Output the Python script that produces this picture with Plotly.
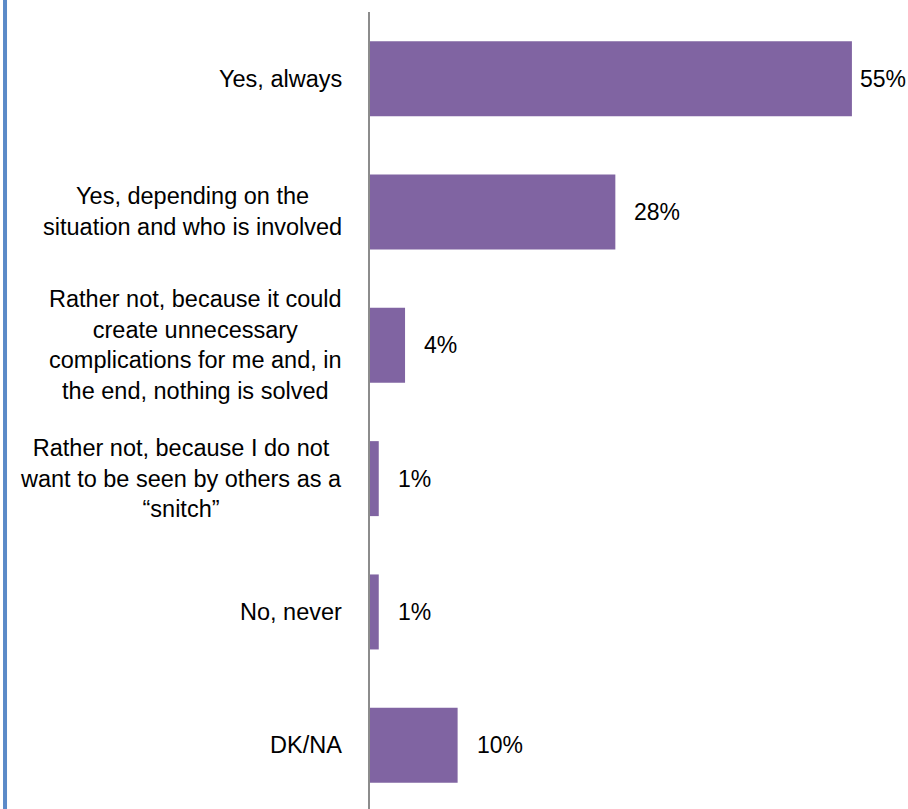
import plotly.graph_objects as go

categories = [
    "Yes, always",
    "Yes, depending on the<br>situation and who is involved",
    "Rather not, because it could<br>create unnecessary<br>complications for me and, in<br>the end, nothing is solved",
    "Rather not, because I do not<br>want to be seen by others as a<br>\u201csnitch\u201d",
    "No, never",
    "DK/NA",
]
values = [55, 28, 4, 1, 1, 10]
value_labels = ["55%", "28%", "4%", "1%", "1%", "10%"]

FONT = "Liberation Sans, Arial, sans-serif"
ids = list(range(len(categories)))

fig = go.Figure()
fig.add_trace(go.Bar(
    x=values, y=ids, orientation="h",
    marker=dict(color="#8064A2", line=dict(width=0)),
    hoverinfo="skip",
))

annotations = []
for i, (cat, v, lab) in enumerate(zip(categories, values, value_labels)):
    annotations.append(dict(
        x=0, xref="paper", y=i, yref="y", text=cat, showarrow=False,
        xanchor="right", yanchor="middle", align="center", xshift=-26,
        font=dict(family=FONT, size=23.5, color="#000000"),
    ))
    annotations.append(dict(
        x=v, xref="x", y=i, yref="y", text=lab, showarrow=False,
        xanchor="left", yanchor="middle", xshift=(6 if v > 50 else 17),
        font=dict(family=FONT, size=23, color="#000000"),
    ))

fig.update_layout(
    width=908, height=809,
    margin=dict(l=370, r=0, t=12, b=0),
    paper_bgcolor="white", plot_bgcolor="white",
    showlegend=False,
    bargap=0.4375,
    annotations=annotations,
    xaxis=dict(range=[0, 61.4], visible=False, fixedrange=True),
    yaxis=dict(range=[5.478, -0.5], showticklabels=False, showgrid=False,
               zeroline=False, showline=True, linecolor="#8C8C8C", linewidth=2,
               ticks="", fixedrange=True),
    shapes=[dict(type="line", xref="paper", yref="paper",
                 x0=-0.6784, x1=-0.6784, y0=-0.02, y1=1.02,
                 line=dict(color="#5B8AC8", width=4))],
)

fig.write_html("out.html", config={"displayModeBar": False},
               post_script="document.body.style.margin='0';document.body.style.overflow='hidden';")
